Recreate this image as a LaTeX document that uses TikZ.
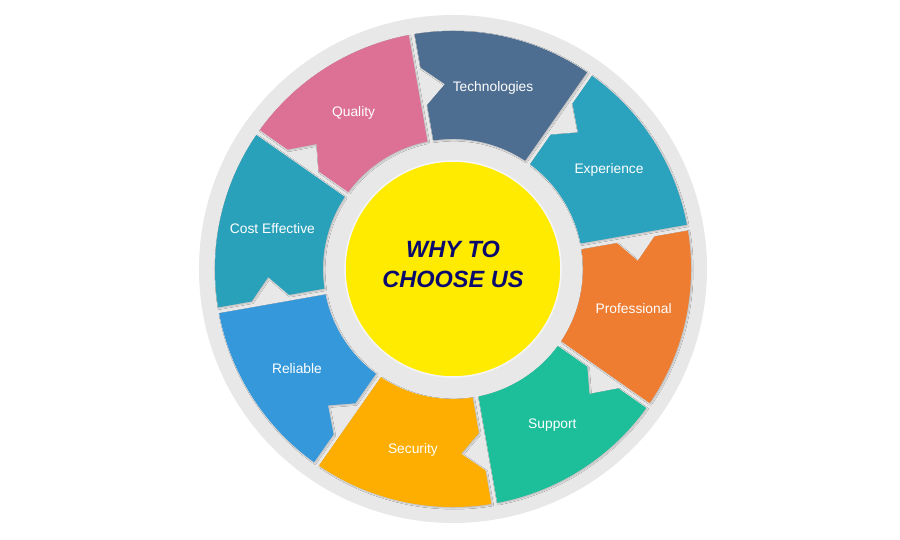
\documentclass[tikz,border=0pt]{standalone}
\usepackage{fontspec}
\setmainfont{Liberation Sans}
\usepackage{xcolor}
\usetikzlibrary{calc,shadows.blur}
\definecolor{cRing}{HTML}{E8E8E8}
\definecolor{cHub}{HTML}{FFEB00}
\definecolor{cTitle}{HTML}{0A0A6E}
\definecolor{cTech}{HTML}{4E6E91}
\definecolor{cExp}{HTML}{2BA3BE}
\definecolor{cProf}{HTML}{EE7D32}
\definecolor{cSupp}{HTML}{1DBF9B}
\definecolor{cSecu}{HTML}{FDAE00}
\definecolor{cReli}{HTML}{3498DB}
\definecolor{cCost}{HTML}{2AA1BB}
\definecolor{cQual}{HTML}{DD7095}
\tikzset{
  seg/.style    = {fill=#1, blur shadow={shadow xshift=1pt, shadow yshift=-1pt,
                   shadow blur radius=1.2pt, shadow opacity=20}},
  seglab/.style = {text=white, font=\fontsize{13.8}{16}\selectfont, inner sep=1pt},
  hub/.style    = {circle, fill=cHub, draw=white!60!cRing, line width=1.5pt,
                   minimum size=216pt, inner sep=0pt},
  title/.style  = {align=center, text=cTitle,
                   font=\fontsize{23.5}{30}\selectfont\bfseries\itshape},
}

\begin{document}
\begin{tikzpicture}[x=1pt, y=1pt]
  \useasboundingbox (-453,-271) rectangle (447,269);
  \fill[cRing] (0,0) circle (254pt);

  % eight sectors, clockwise, notch on the leading edge
  \foreach \a/\col/\txt [count=\i] in {100/cTech/Technologies, 55/cExp/Experience,
      10/cProf/Professional, -35/cSupp/Support, -80/cSecu/Security,
      -125/cReli/Reliable, -170/cCost/Cost Effective, 145/cQual/Quality} {
    \pgfmathsetmacro\b{\a-45}
    \pgfmathsetmacro\m{\a-22.5}
    \pgfmathsetmacro\oa{\a-0.72}
    \pgfmathsetmacro\ob{\b+0.72}
    \pgfmathsetmacro\ia{\a-1.32}
    \pgfmathsetmacro\ib{\b+1.32}
    \fill[seg=\col] ($(\a:130pt)+(\a-90:3pt)$) -- ($(\a:166pt)+(\a-90:3pt)$)
      -- (\a-7.5:185pt) -- ($(\a:204pt)+(\a-90:3pt)$) -- ($(\a:238pt)+(\a-90:3pt)$)
      arc[start angle=\oa, end angle=\ob, radius=238pt]
      -- ($(\b:130pt)+(\b+90:3pt)$)
      arc[start angle=\ib, end angle=\ia, radius=130pt] -- cycle;
    \node[seglab] (lab\i) at (\m:185pt) {\txt};
  }

  \node[hub] (hub) at (0,0) {};
  \node[title] (title) at (0,5) {WHY TO\\CHOOSE US};
\end{tikzpicture}
\end{document}
